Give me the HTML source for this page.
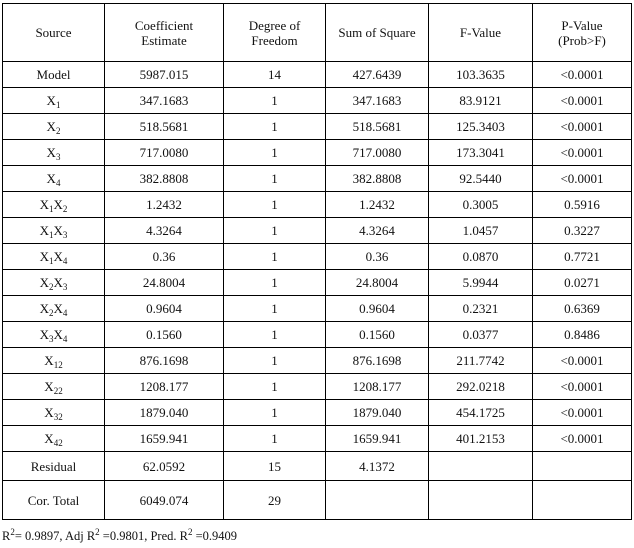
<!DOCTYPE html>
<html><head><meta charset="utf-8"><style>
body{margin:0;background:#fff;width:634px;height:548px;overflow:hidden;font-family:"Liberation Serif",serif;font-size:13px;color:#111}
table{position:absolute;left:2px;top:3px;border-collapse:collapse;table-layout:fixed}
td{border:1px solid #000;text-align:center;padding:0;height:25px;line-height:15px}
tr.h td{height:57px}
tr.r td{height:28px}
tr.c td{height:38px}
sub{font-size:9px;vertical-align:-3px;line-height:0}
.f{position:absolute;left:2px;top:529px;font-size:12.5px}
sup{font-size:9px;line-height:0}
</style></head><body>
<table>
<colgroup><col style="width:102px"><col style="width:119px"><col style="width:102px"><col style="width:103px"><col style="width:104px"><col style="width:99px"></colgroup>
<tr class="h"><td>Source</td><td>Coefficient<br>Estimate</td><td>Degree of<br>Freedom</td><td>Sum of Square</td><td>F-Value</td><td>P-Value<br>(Prob&gt;F)</td></tr>
<tr><td>Model</td><td>5987.015</td><td>14</td><td>427.6439</td><td>103.3635</td><td>&lt;0.0001</td></tr>
<tr><td>X<sub>1</sub></td><td>347.1683</td><td>1</td><td>347.1683</td><td>83.9121</td><td>&lt;0.0001</td></tr>
<tr><td>X<sub>2</sub></td><td>518.5681</td><td>1</td><td>518.5681</td><td>125.3403</td><td>&lt;0.0001</td></tr>
<tr><td>X<sub>3</sub></td><td>717.0080</td><td>1</td><td>717.0080</td><td>173.3041</td><td>&lt;0.0001</td></tr>
<tr><td>X<sub>4</sub></td><td>382.8808</td><td>1</td><td>382.8808</td><td>92.5440</td><td>&lt;0.0001</td></tr>
<tr><td>X<sub>1</sub>X<sub>2</sub></td><td>1.2432</td><td>1</td><td>1.2432</td><td>0.3005</td><td>0.5916</td></tr>
<tr><td>X<sub>1</sub>X<sub>3</sub></td><td>4.3264</td><td>1</td><td>4.3264</td><td>1.0457</td><td>0.3227</td></tr>
<tr><td>X<sub>1</sub>X<sub>4</sub></td><td>0.36</td><td>1</td><td>0.36</td><td>0.0870</td><td>0.7721</td></tr>
<tr><td>X<sub>2</sub>X<sub>3</sub></td><td>24.8004</td><td>1</td><td>24.8004</td><td>5.9944</td><td>0.0271</td></tr>
<tr><td>X<sub>2</sub>X<sub>4</sub></td><td>0.9604</td><td>1</td><td>0.9604</td><td>0.2321</td><td>0.6369</td></tr>
<tr><td>X<sub>3</sub>X<sub>4</sub></td><td>0.1560</td><td>1</td><td>0.1560</td><td>0.0377</td><td>0.8486</td></tr>
<tr><td>X<sub>12</sub></td><td>876.1698</td><td>1</td><td>876.1698</td><td>211.7742</td><td>&lt;0.0001</td></tr>
<tr><td>X<sub>22</sub></td><td>1208.177</td><td>1</td><td>1208.177</td><td>292.0218</td><td>&lt;0.0001</td></tr>
<tr><td>X<sub>32</sub></td><td>1879.040</td><td>1</td><td>1879.040</td><td>454.1725</td><td>&lt;0.0001</td></tr>
<tr><td>X<sub>42</sub></td><td>1659.941</td><td>1</td><td>1659.941</td><td>401.2153</td><td>&lt;0.0001</td></tr>
<tr class="r"><td>Residual</td><td>62.0592</td><td>15</td><td>4.1372</td><td></td><td></td></tr>
<tr class="c"><td>Cor. Total</td><td>6049.074</td><td>29</td><td></td><td></td><td></td></tr>
</table>
<div class="f">R<sup>2</sup>= 0.9897, Adj R<sup>2</sup> =0.9801, Pred. R<sup>2</sup> =0.9409</div>
</body></html>
